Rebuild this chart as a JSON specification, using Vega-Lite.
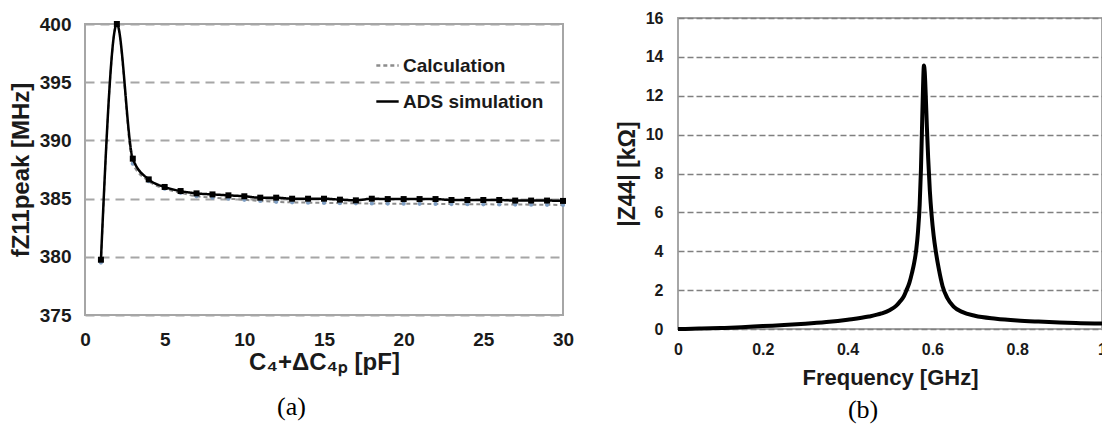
{
  "$schema": "https://vega.github.io/schema/vega-lite/v6.json",
  "padding": {"left": 8, "top": 9, "right": 0, "bottom": 0},
  "autosize": {"type": "pad"},
  "background": "white",
  "spacing": 40,
  "config": {
    "view": {"stroke": "#a6a6a6", "strokeWidth": 2},
    "font": "Liberation Sans",
    "axis": {
      "labelFont": "Liberation Sans", "labelFontWeight": "bold", "labelColor": "#1a1a1a",
      "titleFont": "Liberation Sans", "titleFontWeight": "bold", "titleColor": "#1a1a1a",
      "domain": false, "ticks": false, "grid": false, "labelFlush": false
    },
    "title": {"font": "Liberation Serif", "fontWeight": "normal", "color": "#000000"}
  },
  "datasets": {
    "spacer": [{"s": 0}],
    "fpeak": [
      {"c": 1, "f": 379.5, "series": "Calculation"},
      {"c": 2, "f": 400.0, "series": "Calculation"},
      {"c": 3, "f": 388.0, "series": "Calculation"},
      {"c": 4, "f": 386.5, "series": "Calculation"},
      {"c": 5, "f": 385.85, "series": "Calculation"},
      {"c": 6, "f": 385.5, "series": "Calculation"},
      {"c": 7, "f": 385.2, "series": "Calculation"},
      {"c": 8, "f": 385.08, "series": "Calculation"},
      {"c": 9, "f": 384.99, "series": "Calculation"},
      {"c": 10, "f": 384.9, "series": "Calculation"},
      {"c": 11, "f": 384.8, "series": "Calculation"},
      {"c": 12, "f": 384.72, "series": "Calculation"},
      {"c": 13, "f": 384.68, "series": "Calculation"},
      {"c": 14, "f": 384.65, "series": "Calculation"},
      {"c": 15, "f": 384.63, "series": "Calculation"},
      {"c": 16, "f": 384.61, "series": "Calculation"},
      {"c": 17, "f": 384.6, "series": "Calculation"},
      {"c": 18, "f": 384.58, "series": "Calculation"},
      {"c": 19, "f": 384.57, "series": "Calculation"},
      {"c": 20, "f": 384.56, "series": "Calculation"},
      {"c": 21, "f": 384.55, "series": "Calculation"},
      {"c": 22, "f": 384.54, "series": "Calculation"},
      {"c": 23, "f": 384.53, "series": "Calculation"},
      {"c": 24, "f": 384.52, "series": "Calculation"},
      {"c": 25, "f": 384.51, "series": "Calculation"},
      {"c": 26, "f": 384.5, "series": "Calculation"},
      {"c": 27, "f": 384.49, "series": "Calculation"},
      {"c": 28, "f": 384.48, "series": "Calculation"},
      {"c": 29, "f": 384.47, "series": "Calculation"},
      {"c": 30, "f": 384.45, "series": "Calculation"},
      {"c": 1, "f": 379.75, "series": "ADS simulation"},
      {"c": 2, "f": 400.0, "series": "ADS simulation"},
      {"c": 3, "f": 388.43, "series": "ADS simulation"},
      {"c": 4, "f": 386.65, "series": "ADS simulation"},
      {"c": 5, "f": 386.0, "series": "ADS simulation"},
      {"c": 6, "f": 385.65, "series": "ADS simulation"},
      {"c": 7, "f": 385.45, "series": "ADS simulation"},
      {"c": 8, "f": 385.36, "series": "ADS simulation"},
      {"c": 9, "f": 385.28, "series": "ADS simulation"},
      {"c": 10, "f": 385.2, "series": "ADS simulation"},
      {"c": 11, "f": 385.08, "series": "ADS simulation"},
      {"c": 12, "f": 385.08, "series": "ADS simulation"},
      {"c": 13, "f": 384.99, "series": "ADS simulation"},
      {"c": 14, "f": 384.99, "series": "ADS simulation"},
      {"c": 15, "f": 384.99, "series": "ADS simulation"},
      {"c": 16, "f": 384.91, "series": "ADS simulation"},
      {"c": 17, "f": 384.85, "series": "ADS simulation"},
      {"c": 18, "f": 384.99, "series": "ADS simulation"},
      {"c": 19, "f": 384.96, "series": "ADS simulation"},
      {"c": 20, "f": 384.96, "series": "ADS simulation"},
      {"c": 21, "f": 384.96, "series": "ADS simulation"},
      {"c": 22, "f": 384.96, "series": "ADS simulation"},
      {"c": 23, "f": 384.88, "series": "ADS simulation"},
      {"c": 24, "f": 384.88, "series": "ADS simulation"},
      {"c": 25, "f": 384.88, "series": "ADS simulation"},
      {"c": 26, "f": 384.88, "series": "ADS simulation"},
      {"c": 27, "f": 384.83, "series": "ADS simulation"},
      {"c": 28, "f": 384.83, "series": "ADS simulation"},
      {"c": 29, "f": 384.83, "series": "ADS simulation"},
      {"c": 30, "f": 384.8, "series": "ADS simulation"}
    ],
    "z44": [
      {"freq": 0.0, "z": 0.0},
      {"freq": 0.05, "z": 0.02},
      {"freq": 0.1, "z": 0.05},
      {"freq": 0.15, "z": 0.09},
      {"freq": 0.2, "z": 0.15},
      {"freq": 0.25, "z": 0.2},
      {"freq": 0.3, "z": 0.27},
      {"freq": 0.35, "z": 0.36},
      {"freq": 0.4, "z": 0.48},
      {"freq": 0.45, "z": 0.64},
      {"freq": 0.48, "z": 0.8},
      {"freq": 0.5, "z": 0.98},
      {"freq": 0.515, "z": 1.2},
      {"freq": 0.525, "z": 1.45},
      {"freq": 0.533, "z": 1.7},
      {"freq": 0.539, "z": 2.0},
      {"freq": 0.546, "z": 2.4},
      {"freq": 0.552, "z": 2.9},
      {"freq": 0.557, "z": 3.4},
      {"freq": 0.562, "z": 4.1},
      {"freq": 0.566, "z": 5.0},
      {"freq": 0.57, "z": 6.4},
      {"freq": 0.573, "z": 8.2},
      {"freq": 0.576, "z": 10.8},
      {"freq": 0.578, "z": 12.5},
      {"freq": 0.58, "z": 13.55},
      {"freq": 0.582, "z": 13.2},
      {"freq": 0.584, "z": 12.2},
      {"freq": 0.587, "z": 10.4},
      {"freq": 0.59, "z": 8.8},
      {"freq": 0.594, "z": 7.1},
      {"freq": 0.598, "z": 5.9},
      {"freq": 0.603, "z": 4.8},
      {"freq": 0.608, "z": 4.0},
      {"freq": 0.615, "z": 3.1},
      {"freq": 0.624, "z": 2.2},
      {"freq": 0.635, "z": 1.6},
      {"freq": 0.65, "z": 1.15},
      {"freq": 0.67, "z": 0.88},
      {"freq": 0.7, "z": 0.68},
      {"freq": 0.75, "z": 0.53},
      {"freq": 0.8, "z": 0.44},
      {"freq": 0.85, "z": 0.38},
      {"freq": 0.9, "z": 0.33},
      {"freq": 0.95, "z": 0.3},
      {"freq": 1.0, "z": 0.28}
    ]
  },
  "hconcat": [
    {
      "spacing": 5,
      "bounds": "flush",
      "vconcat": [
        {
          "width": 478,
          "height": 1,
          "view": {"stroke": null},
          "data": {"name": "spacer"},
          "mark": {"type": "text", "text": ""}
        },
        {
          "width": 478,
          "height": 291,
          "title": {"text": "(a)", "orient": "bottom", "fontSize": 26, "offset": 20, "frame": "bounds", "anchor": "middle"},
          "data": {"name": "fpeak"},
          "encoding": {
            "x": {
              "field": "c", "type": "quantitative",
              "scale": {"domain": [0, 30]},
              "axis": {"values": [0, 5, 10, 15, 20, 25, 30], "title": "C₄+ΔC₄ₚ [pF]", "labelFontSize": 19, "titleFontSize": 24, "labelPadding": 15, "titlePadding": 1}
            },
            "y": {
              "field": "f", "type": "quantitative",
              "scale": {"domain": [375, 400]},
              "axis": {"values": [375, 380, 385, 390, 395, 400], "title": "fZ11peak [MHz]", "labelFontSize": 19, "titleFontSize": 24, "labelPadding": 14, "titlePadding": 6, "grid": true, "gridDash": [9, 6], "gridColor": "#a6a6a6", "gridWidth": 2}
            }
          },
          "layer": [
            {
              "transform": [{"filter": "datum.series == 'Calculation'"}],
              "mark": {"type": "line", "interpolate": "monotone", "strokeWidth": 2},
              "encoding": {
                "color": {"field": "series", "type": "nominal", "scale": {"domain": ["Calculation", "ADS simulation"], "range": ["#8c8c8c", "#000000"]},
                  "legend": {"title": null, "orient": "none", "legendX": 290, "legendY": 35, "symbolType": "stroke", "symbolSize": 500, "symbolStrokeWidth": 2.5, "labelFontSize": 19, "labelFont": "Liberation Sans", "labelFontWeight": "bold", "labelColor": "#1a1a1a", "rowPadding": 13, "labelOffset": 3}},
                "strokeDash": {"field": "series", "type": "nominal", "scale": {"domain": ["Calculation", "ADS simulation"], "range": [[4, 3], [1, 0]]},
                  "legend": {"title": null, "orient": "none", "legendX": 290, "legendY": 35, "symbolType": "stroke", "symbolSize": 500, "symbolStrokeWidth": 2.5, "labelFontSize": 19, "labelFont": "Liberation Sans", "labelFontWeight": "bold", "labelColor": "#1a1a1a", "rowPadding": 13, "labelOffset": 3}}
              }
            },
            {
              "transform": [{"filter": "datum.series == 'Calculation'"}],
              "mark": {"type": "circle", "size": 18, "color": "#7f9fc4", "opacity": 1}
            },
            {
              "transform": [{"filter": "datum.series == 'ADS simulation'"}],
              "mark": {"type": "line", "interpolate": "monotone", "strokeWidth": 2.5},
              "encoding": {
                "color": {"field": "series", "type": "nominal"},
                "strokeDash": {"field": "series", "type": "nominal"}
              }
            },
            {
              "transform": [{"filter": "datum.series == 'ADS simulation'"}],
              "mark": {"type": "square", "size": 36, "color": "#000000", "opacity": 1}
            }
          ]
        }
      ]
    },
    {
      "width": 424,
      "height": 311,
      "title": {"text": "(b)", "orient": "bottom", "fontSize": 26, "offset": 9, "frame": "bounds", "anchor": "middle"},
      "data": {"name": "z44"},
      "mark": {"type": "line", "interpolate": "monotone", "strokeWidth": 4, "color": "#000000"},
      "encoding": {
        "x": {
          "field": "freq", "type": "quantitative",
          "scale": {"domain": [0, 1]},
          "axis": {"values": [0, 0.2, 0.4, 0.6, 0.8, 1], "format": "~g", "title": "Frequency [GHz]", "labelFontSize": 16, "titleFontSize": 22, "labelPadding": 12, "titlePadding": 10}
        },
        "y": {
          "field": "z", "type": "quantitative",
          "scale": {"domain": [0, 16]},
          "axis": {"values": [0, 2, 4, 6, 8, 10, 12, 14, 16], "title": "|Z44| [kΩ]", "labelFontSize": 16, "titleFontSize": 23, "labelPadding": 15, "titlePadding": 6, "grid": true, "gridDash": [6, 3], "gridColor": "#808080", "gridWidth": 1.5}
        }
      }
    }
  ]
}
